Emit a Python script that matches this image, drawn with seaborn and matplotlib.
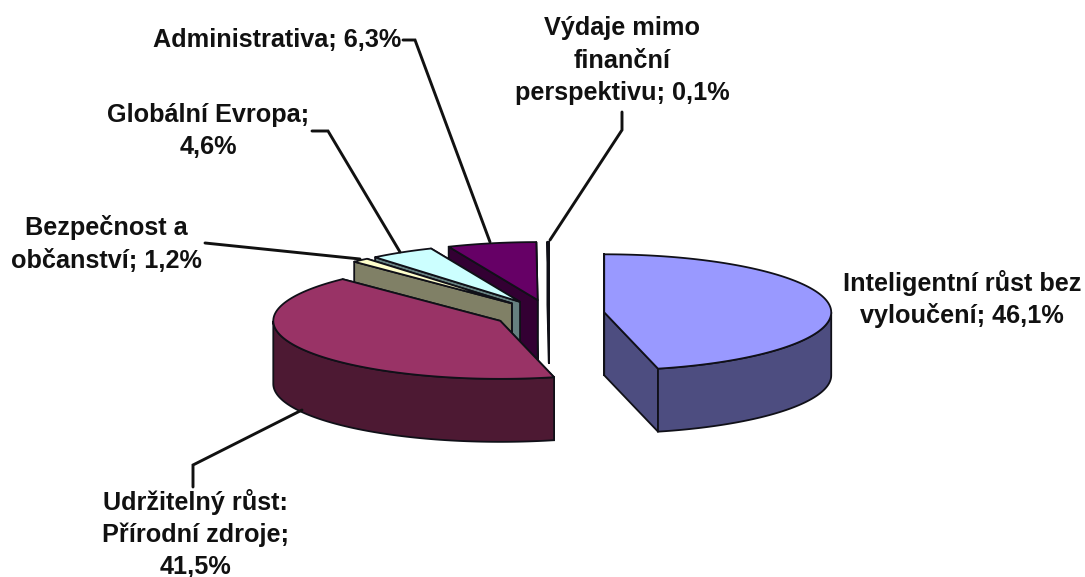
import numpy as np
import matplotlib
matplotlib.use("Agg")
import matplotlib.pyplot as plt
import seaborn as sns

sns.set_theme(style="white")
plt.rcParams['font.family'] = ['Liberation Sans', 'DejaVu Sans']

# ---- data ----
categories = ["Inteligentní růst bez vyloučení", "Udržitelný růst: Přírodní zdroje",
              "Bezpečnost a občanství", "Globální Evropa", "Administrativa",
              "Výdaje mimo finanční perspektivu"]
shares = [46.1, 41.5, 1.2, 4.6, 6.3, 0.1]
top_colors = ["#9999FF", "#993366", "#FFFFCC", "#CCFFFF", "#660066", "#FFFFFF"]
side_colors = ["#4D4D80", "#4D1933", "#808066", "#668080", "#330033", "#808080"]
label_lines = [["Inteligentní růst bez", "vyloučení; 46,1%"],
               ["Udržitelný růst:", "Přírodní zdroje;", "41,5%"],
               ["Bezpečnost a", "občanství; 1,2%"],
               ["Globální Evropa;", "4,6%"],
               ["Administrativa; 6,3%"],
               ["Výdaje mimo", "finanční", "perspektivu; 0,1%"]]

# ---- layout ----
CX, CY = 549, 314
RX, RY = 227, 58
THICK = 63
EXPLODE = 0.245
label_pos = [(962, 283), (195, 502), (106, 228), (208, 115), (277, 40), (622, 28)]
LINE_GAP = 32.5
leaders = [None,
           [(193, 487), (193, 465), (302, 410)],
           [(205, 243), (360, 259)],
           [(312, 131), (328, 131), (400, 252)],
           [(403, 40), (415, 40), (490, 242)],
           [(622, 112), (622, 130), (550, 240)]]
EDGE = "#101018"

fig, ax = plt.subplots(figsize=(10.85, 5.77), dpi=100)
fig.subplots_adjust(0, 0, 1, 1)
ax.set_xlim(0, 1085)
ax.set_ylim(577, 0)
ax.axis("off")


def proj(c, deg):
    t = np.radians(deg)
    return c[0] + RX * np.sin(t), c[1] - RY * np.cos(t)


def draw_wedge(start, end, top, side, z):
    mid = np.radians((start + end) / 2)
    c = (CX + EXPLODE * RX * np.sin(mid), CY - EXPLODE * RY * np.cos(mid))
    lw = 1.3
    # radial walls
    for a in (end, start):
        x, y = proj(c, a)
        ax.fill([c[0], x, x, c[0]], [c[1], y, y + THICK, c[1] + THICK],
                fc=side, ec=EDGE, lw=lw, zorder=z, joinstyle="round")
    # outer wall, front part only
    lo, hi = max(start, 90), min(end, 270)
    if hi > lo:
        th = np.linspace(lo, hi, 80)
        xs, ys = proj(c, th)
        ax.fill(np.r_[xs, xs[::-1]], np.r_[ys, ys[::-1] + THICK],
                fc=side, ec=EDGE, lw=lw, zorder=z + 0.1)
    # top face
    th = np.linspace(start, end, 160)
    xs, ys = proj(c, th)
    ax.fill(np.r_[c[0], xs], np.r_[c[1], ys], fc=top, ec=EDGE, lw=lw,
            zorder=z + 0.2, joinstyle="round")


total = sum(shares)
bounds = np.r_[0, np.cumsum(shares)] / total * 360
# painter's order: farthest slice first, blue slice stands apart
order = [5, 4, 3, 2, 1, 0]
for n, i in enumerate(order):
    draw_wedge(bounds[i], bounds[i + 1], top_colors[i], side_colors[i], 2 + n)

for pts in leaders:
    if pts:
        xs, ys = zip(*pts)
        ax.plot(xs, ys, color="#111111", lw=2.1, zorder=20, solid_joinstyle="miter")

for lines, (x, y) in zip(label_lines, label_pos):
    for k, s in enumerate(lines):
        ax.text(x, y + k * LINE_GAP, s, ha="center", va="center", fontsize=18.2,
                fontweight="bold", color="#111111", zorder=21)

fig.savefig("out.png", dpi=100, facecolor="white")
